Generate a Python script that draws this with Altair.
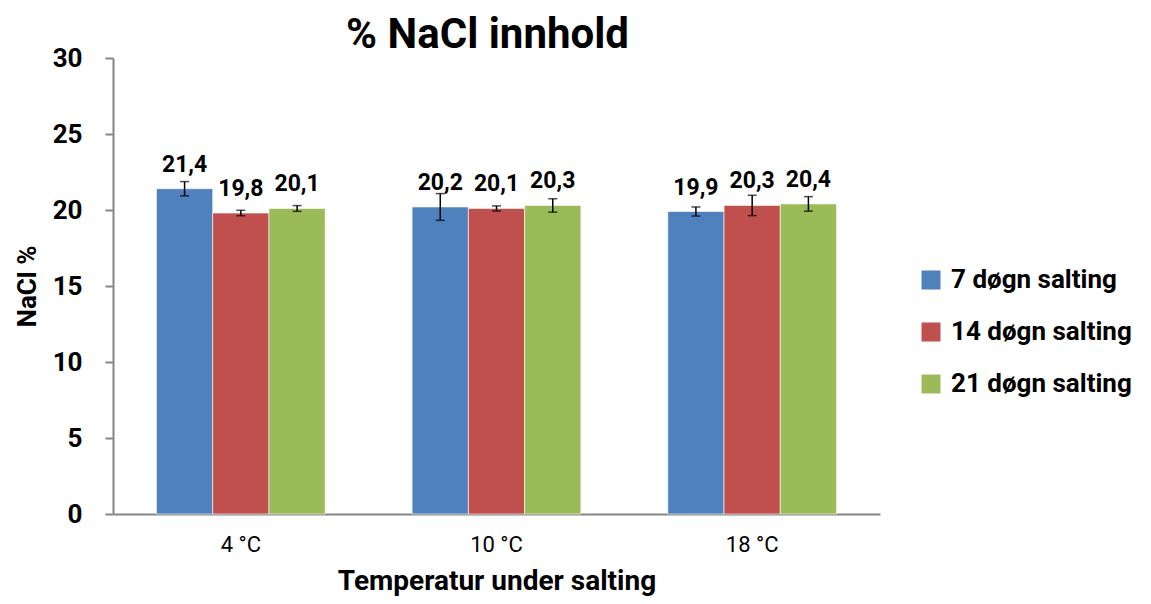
import altair as alt
import pandas as pd

temps = ["4 °C", "10 °C", "18 °C"]
series = ["7 døgn salting", "14 døgn salting", "21 døgn salting"]
values_7 = [21.4, 20.2, 19.9]
values_14 = [19.8, 20.1, 20.3]
values_21 = [20.1, 20.3, 20.4]
err_7 = [0.47, 0.88, 0.30]
err_14 = [0.18, 0.17, 0.67]
err_21 = [0.19, 0.44, 0.48]
colors = ["#4F81BD", "#C0504D", "#9BBB59"]

rows = []
for s, vals, errs in zip(series, [values_7, values_14, values_21], [err_7, err_14, err_21]):
    for t, v, e in zip(temps, vals, errs):
        rows.append({"temp": t, "series": s, "value": v, "lo": v - e, "hi": v + e,
                     "label": f"{v:.1f}".replace(".", ",")})
df = pd.DataFrame(rows)

FONT = "Roboto, Liberation Sans, sans-serif"

x = alt.X("temp:N", sort=temps,
          scale=alt.Scale(paddingInner=0.34, paddingOuter=0.17),
          axis=alt.Axis(title="Temperatur under salting", labelAngle=0,
                        labelFontSize=22, labelFont=FONT, labelColor="#000000",
                        labelPadding=20, ticks=False,
                        titleFontSize=28, titleFont=FONT, titleFontWeight="bold",
                        titleColor="#000000", titlePadding=12,
                        domainColor="#868686", domainWidth=2))
xo = alt.XOffset("series:N", sort=series, scale=alt.Scale(paddingInner=0, paddingOuter=0))

base = alt.Chart(df)

bars = base.mark_bar(stroke="white", strokeWidth=0.6).encode(
    x=x, xOffset=xo,
    y=alt.Y("value:Q", scale=alt.Scale(domain=[0, 30]),
            axis=alt.Axis(title="NaCl %", values=[0, 5, 10, 15, 20, 25, 30], grid=False,
                          labelFontSize=26, labelFont=FONT, labelFontWeight="bold",
                          labelColor="#000000", labelPadding=23,
                          tickSize=8, tickColor="#868686", tickWidth=2,
                          domainColor="#868686", domainWidth=2,
                          titleFontSize=26, titleFont=FONT, titleFontWeight="bold",
                          titleColor="#000000", titlePadding=12)),
    color=alt.Color("series:N", sort=series,
                    scale=alt.Scale(domain=series, range=colors),
                    legend=alt.Legend(title=None, orient="none", legendX=805, legendY=209,
                                      symbolType="square", symbolSize=361,
                                      symbolStrokeWidth=0, labelLimit=0,
                                      labelFontSize=26, labelFont=FONT,
                                      labelFontWeight="bold", labelColor="#000000",
                                      rowPadding=26, labelOffset=7, padding=0)),
)

rules = base.mark_rule(color="black", strokeWidth=1.5).encode(
    x=alt.X("temp:N", sort=temps), xOffset=xo, y="lo:Q", y2="hi:Q")
caps_lo = base.mark_tick(color="black", thickness=1.5, size=9).encode(
    x=alt.X("temp:N", sort=temps), xOffset=xo, y="lo:Q")
caps_hi = base.mark_tick(color="black", thickness=1.5, size=9).encode(
    x=alt.X("temp:N", sort=temps), xOffset=xo, y="hi:Q")
labels = base.mark_text(baseline="alphabetic", dy=-17, fontSize=23, font=FONT,
                        fontWeight="bold", color="black").encode(
    x=alt.X("temp:N", sort=temps), xOffset=xo, y="value:Q", text="label:N")

chart = alt.layer(bars, rules, caps_lo, caps_hi, labels).properties(
    width=767, height=456,
    title=alt.TitleParams("% NaCl innhold", fontSize=42, font=FONT, fontWeight="bold",
                          color="black", anchor="middle", dx=-9, offset=-12),
    autosize="none",
    padding={"left": 105, "top": 50, "right": 263, "bottom": 82},
).configure(background="white").configure_view(stroke=None)

chart.save("out.html", embed_options={"renderer": "svg", "actions": False})
